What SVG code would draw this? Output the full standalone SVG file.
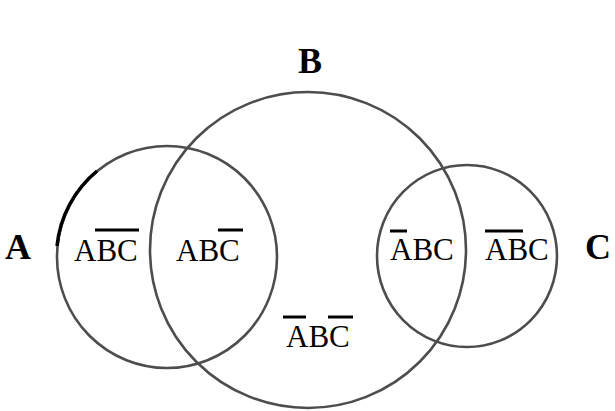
<svg xmlns="http://www.w3.org/2000/svg" width="615" height="411" viewBox="0 0 615 411">
<style>
.c{fill:none;stroke:#4d4d4d;stroke-width:2.6}
.lbl{font-family:"Liberation Serif",serif;font-size:36px;font-weight:bold;fill:#000;text-anchor:middle}
.t{font-family:"Liberation Serif",serif;font-size:31px;fill:#000}
.ov{stroke:#000;stroke-width:3}
</style>
<rect width="615" height="411" fill="#fff"/>
<g id="circleA"><ellipse class="c" cx="167" cy="257" rx="110" ry="111"/>
<path d="M57,246 A110,111 0 0 1 97,171" fill="none" stroke="#000" stroke-width="3.5"/></g>
<g id="circleB"><circle class="c" cx="308" cy="250" r="158"/></g>
<g id="circleC"><ellipse class="c" cx="467" cy="256" rx="90" ry="91"/></g>
<g id="labelA"><text class="lbl" x="18" y="259">A</text></g>
<g id="labelB"><text class="lbl" x="310" y="73">B</text></g>
<g id="labelC"><text class="lbl" x="598" y="259">C</text></g>
<g id="r1"><text class="t" x="74" y="261">ABC</text><line class="ov" x1="95" y1="230" x2="139" y2="230"/></g>
<g id="r2"><text class="t" x="176" y="261">ABC</text><line class="ov" x1="218" y1="230" x2="243" y2="230"/></g>
<g id="r3"><text class="t" x="286" y="347">ABC</text><line class="ov" x1="283" y1="317" x2="306" y2="317"/><line class="ov" x1="328" y1="317" x2="353" y2="317"/></g>
<g id="r4"><text class="t" x="390" y="260">ABC</text><line class="ov" x1="390" y1="231" x2="407" y2="231"/></g>
<g id="r5"><text class="t" x="485" y="260">ABC</text><line class="ov" x1="485" y1="231" x2="523" y2="231"/></g>
</svg>
